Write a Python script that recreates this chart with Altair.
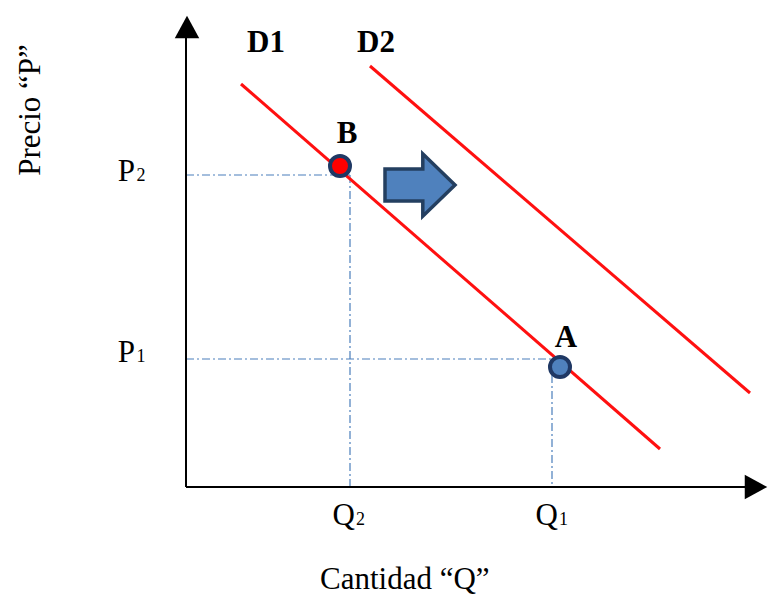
import altair as alt
import pandas as pd

# Chart units: x = quantity, y = price (axis origin at 0,0)
XMIN, XMAX = -17.8, 58.2
YMIN, YMAX = -10.8, 47.9

# Demand curves (two end points each)
d1_q = [5.5, 47.4]
d1_p = [40.3, 3.8]
d2_q = [18.4, 56.4]
d2_p = [42.1, 9.4]

# Equilibrium points
pt_names = ["B", "A"]
pt_q = [15.4, 37.4]
pt_p = [32.1, 12.0]
pt_fill = ["#ff0000", "#4f81bd"]

# Guide levels
Q2, Q1 = 16.4, 36.6
P2, P1 = 31.2, 12.8

# Axes
yaxis_q = [0, 0]
yaxis_p = [0, 45.2]
xaxis_q = [0, 56.0]
xaxis_p = [0, 0]

# Text labels
big_txt = ["D1", "D2", "B", "A"]
big_q = [8.0, 19.0, 16.1, 38.0]
big_p = [44.4, 44.4, 35.3, 14.9]

tick_main = ["P", "P", "Q", "Q"]
tick_main_end_q = [-5.1, -5.1, 16.9, 37.2]
tick_sub = ["2", "1", "2", "1"]
tick_sub_start_q = [-4.95, -4.95, 17.0, 37.3]
tick_base_p = [30.6, 12.5, -3.8, -3.8]

xscale = alt.Scale(domain=[XMIN, XMAX], nice=False, zero=False)
yscale = alt.Scale(domain=[YMIN, YMAX], nice=False, zero=False)
X = lambda f="q": alt.X(f"{f}:Q", scale=xscale, axis=None)
Y = lambda f="p": alt.Y(f"{f}:Q", scale=yscale, axis=None)

SERIF = "Liberation Serif"
FS = 31

# axis lines
axes_df = pd.DataFrame({
    "q": yaxis_q + xaxis_q,
    "p": yaxis_p + xaxis_p,
    "id": ["y", "y", "x", "x"],
})
axes = alt.Chart(axes_df).mark_line(color="black", strokeWidth=2).encode(
    x=X(), y=Y(), detail="id:N")

# arrow heads
heads_df = pd.DataFrame({"q": [0.1, 57.0], "p": [46.0, 0.0], "dir": ["up", "right"]})
head_up = alt.Chart(heads_df[heads_df.dir == "up"]).mark_point(
    shape="M0,-0.92L1,0.92L-1,0.92Z", size=600, filled=True, color="black", opacity=1
).encode(x=X(), y=Y())
head_right = alt.Chart(heads_df[heads_df.dir == "right"]).mark_point(
    shape="M0.92,0L-0.92,1L-0.92,-1Z", size=600, filled=True, color="black", opacity=1
).encode(x=X(), y=Y())

# guide dash-dot lines
guides_df = pd.DataFrame({
    "q": [0, Q2, Q2, Q2, 0, Q1, Q1, Q1],
    "p": [P2, P2, P2, 0, P1, P1, P1, 0],
    "seg": ["a", "a", "b", "b", "c", "c", "d", "d"],
})
guides = alt.Chart(guides_df).mark_line(
    color="#4a7ebb", strokeWidth=1.2, strokeDash=[8, 3, 2, 3]
).encode(x=X(), y=Y(), detail="seg:N")

# demand lines
dem_df = pd.DataFrame({
    "q": d1_q + d2_q,
    "p": d1_p + d2_p,
    "curve": ["D1", "D1", "D2", "D2"],
})
demand = alt.Chart(dem_df).mark_line(color="#ff1010", strokeWidth=3).encode(
    x=X(), y=Y(), detail="curve:N")

# points
pts_df = pd.DataFrame({"q": pt_q, "p": pt_p, "name": pt_names, "fill": pt_fill})
points = alt.Chart(pts_df).mark_point(
    filled=True, size=400, stroke="#1f3864", strokeWidth=4, opacity=1, fillOpacity=1
).encode(x=X(), y=Y(), fill=alt.Fill("fill:N", scale=None))

# shift arrow
arrow_df = pd.DataFrame({"q": [23.4], "p": [30.2]})
arrow = alt.Chart(arrow_df).mark_point(
    shape="M-1,-0.46L0.08,-0.46L0.08,-0.89L1,0L0.08,0.89L0.08,0.46L-1,0.46Z",
    size=4900, filled=True, fill="#4f81bd", stroke="#243f60", strokeWidth=3.5,
    opacity=1, fillOpacity=1,
).encode(x=X(), y=Y())

# big bold labels
big_df = pd.DataFrame({"q": big_q, "p": big_p, "t": big_txt})
big = alt.Chart(big_df).mark_text(
    font=SERIF, fontSize=FS, fontWeight="bold", color="black",
    align="center", baseline="middle"
).encode(x=X(), y=Y(), text="t:N")

# tick labels
tm_df = pd.DataFrame({"q": tick_main_end_q, "p": tick_base_p, "t": tick_main})
ts_df = pd.DataFrame({"q": tick_sub_start_q, "p": tick_base_p, "t": tick_sub})
tmain = alt.Chart(tm_df).mark_text(
    font=SERIF, fontSize=FS, color="black", align="right", baseline="alphabetic"
).encode(x=X(), y=Y(), text="t:N")
tsub = alt.Chart(ts_df).mark_text(
    font=SERIF, fontSize=18, color="black", align="left", baseline="alphabetic"
).encode(x=X(), y=Y(), text="t:N")

# axis titles
xt_df = pd.DataFrame({"q": [13.4], "p": [-10.2], "t": ["Cantidad “Q”"]})
xtitle = alt.Chart(xt_df).mark_text(
    font=SERIF, fontSize=FS, color="black", align="left", baseline="alphabetic"
).encode(x=X(), y=Y(), text="t:N")
yt_df = pd.DataFrame({"q": [-14.6], "p": [37.7], "t": ["Precio “P”"]})
ytitle = alt.Chart(yt_df).mark_text(
    font=SERIF, fontSize=FS, color="black", align="center", baseline="alphabetic", angle=270
).encode(x=X(), y=Y(), text="t:N")

chart = alt.layer(
    guides, axes, head_up, head_right, demand, points, arrow, big, tmain, tsub, xtitle, ytitle
).properties(
    width=760, height=587,
    autosize=alt.AutoSizeParams(type="none"),
    padding=0,
).configure_view(stroke=None)

chart.save("out.html", embed_options={"renderer": "svg", "actions": False})
